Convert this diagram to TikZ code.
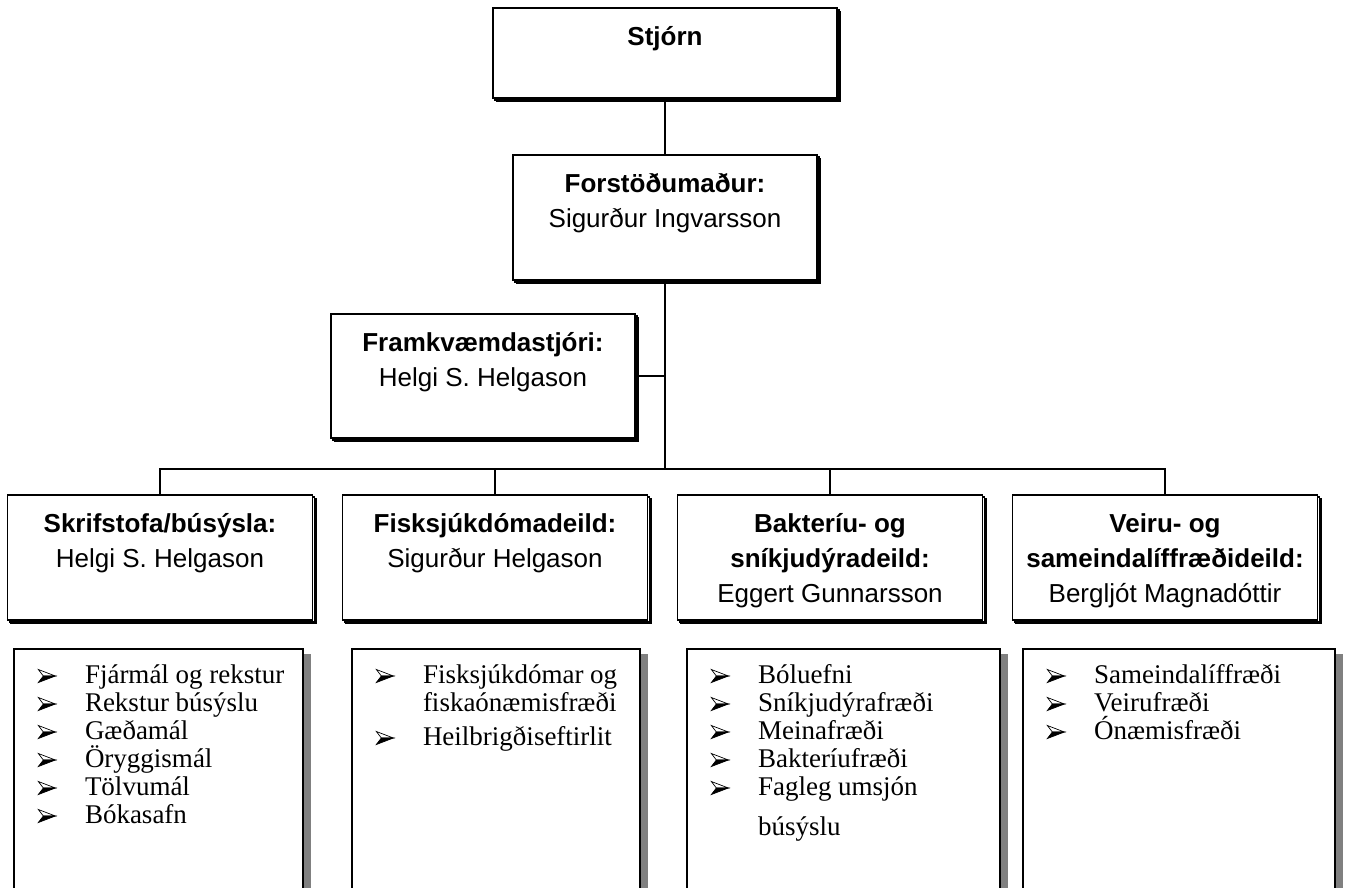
\documentclass[tikz,border=0pt]{standalone}
\usepackage{fontspec}
\setmainfont{Liberation Sans}
\newfontfamily\listfont{Liberation Serif}
\usetikzlibrary{shadows}
\newcommand{\unittext}[3]{\parbox[c][#2][t]{#1}{\centering\vspace*{13pt}\strut #3}}
\newcommand{\tasktext}[3]{\parbox[c][#2][t]{#1}{\listfont\fontsize{27}{28}\selectfont\raggedright\leftskip=24pt\vspace*{14.4pt}\strut #3}}
\newcommand{\bul}{\tikz[x=1pt,y=1pt,baseline=-7pt,line width=0.7pt,line join=miter]{\filldraw[fill=white] (0,6.5) -- (17,0) -- (5,0) -- cycle; \filldraw[fill=black] (0,-6.5) -- (17,0) -- (5,0) -- cycle;}}
\newcommand{\itm}{\makebox[47pt][l]{\bul}}
\tikzset{
  unitbox/.style={draw, fill=white, line width=1.6pt, inner sep=0pt,
    copy shadow={shadow xshift=3.6pt, shadow yshift=-3.6pt, draw=black, fill=white, line width=1.6pt},
    copy shadow={shadow xshift=1.8pt, shadow yshift=-1.8pt, draw=black, fill=white, line width=1.6pt}},
  taskbox/.style={draw, fill=white, line width=1.4pt, inner sep=0pt,
    drop shadow={shadow xshift=8pt, shadow yshift=-5pt, draw=none, fill=black!50, opacity=1}},
  link/.style={line width=1.2pt}
}
\begin{document}
\begin{tikzpicture}[x=1pt,y=-1pt,font=\fontsize{26}{35}\selectfont]
  \useasboundingbox (0,0) rectangle (1346,888);
  \clip (0,0) rectangle (1346,888);
  % management
  \node[unitbox] (stjorn) at (665,53) {\unittext{344pt}{90pt}{\textbf{Stjórn}}};
  \node[unitbox] (forst) at (665,217.5) {\unittext{304pt}{125pt}{\textbf{Forstöðumaður:}\\Sigurður Ingvarsson}};
  \node[unitbox] (framk) at (483,376) {\unittext{304pt}{124pt}{\textbf{Framkvæmdastjóri:}\\Helgi S. Helgason}};
  % departments
  \node[unitbox] (skrif) at (160,557.5) {\unittext{305pt}{125pt}{\textbf{Skrifstofa/búsýsla:}\\Helgi S. Helgason}};
  \node[unitbox] (fisk) at (495,557.5) {\unittext{305pt}{125pt}{\textbf{Fisksjúkdómadeild:}\\Sigurður Helgason}};
  \node[unitbox] (bakt) at (830,557.5) {\unittext{305pt}{125pt}{\textbf{Bakteríu- og}\\\textbf{sníkjudýradeild:}\\Eggert Gunnarsson}};
  \node[unitbox] (veiru) at (1165,557.5) {\unittext{305pt}{125pt}{\textbf{Veiru- og}\\\textbf{sameindalíffræðideild:}\\Bergljót Magnadóttir}};
  % tasks
  \node[taskbox] (skriftask) at (158.5,779) {\tasktext{289pt}{260pt}{\itm Fjármál og rekstur\\\itm Rekstur búsýslu\\\itm Gæðamál\\\itm Öryggismál\\\itm Tölvumál\\\itm Bókasafn}};
  \node[taskbox] (fisktask) at (496,779) {\tasktext{288pt}{260pt}{\itm Fisksjúkdómar og\\\hspace*{47pt}fiskaónæmisfræði\\[6pt]\itm Heilbrigðiseftirlit}};
  \node[taskbox] (bakttask) at (843.5,779) {\tasktext{313pt}{260pt}{\itm Bóluefni\\\itm Sníkjudýrafræði\\\itm Meinafræði\\\itm Bakteríufræði\\\itm Fagleg umsjón\\[12pt]\hspace*{47pt}búsýslu}};
  \node[taskbox] (veirutask) at (1179,779) {\tasktext{312pt}{260pt}{\itm Sameindalíffræði\\\itm Veirufræði\\\itm Ónæmisfræði}};
  % connectors
  \coordinate (trunk) at (665,469);
  \draw[link] (stjorn.south) -- (forst.north);
  \draw[link] (forst.south) -- (trunk);
  \draw[link] (framk.east) -- (framk.east -| trunk);
  \draw[link] (skrif.north) -- (skrif.north |- trunk) -| (veiru.north);
  \draw[link] (fisk.north) -- (fisk.north |- trunk);
  \draw[link] (bakt.north) -- (bakt.north |- trunk);
\end{tikzpicture}
\end{document}
